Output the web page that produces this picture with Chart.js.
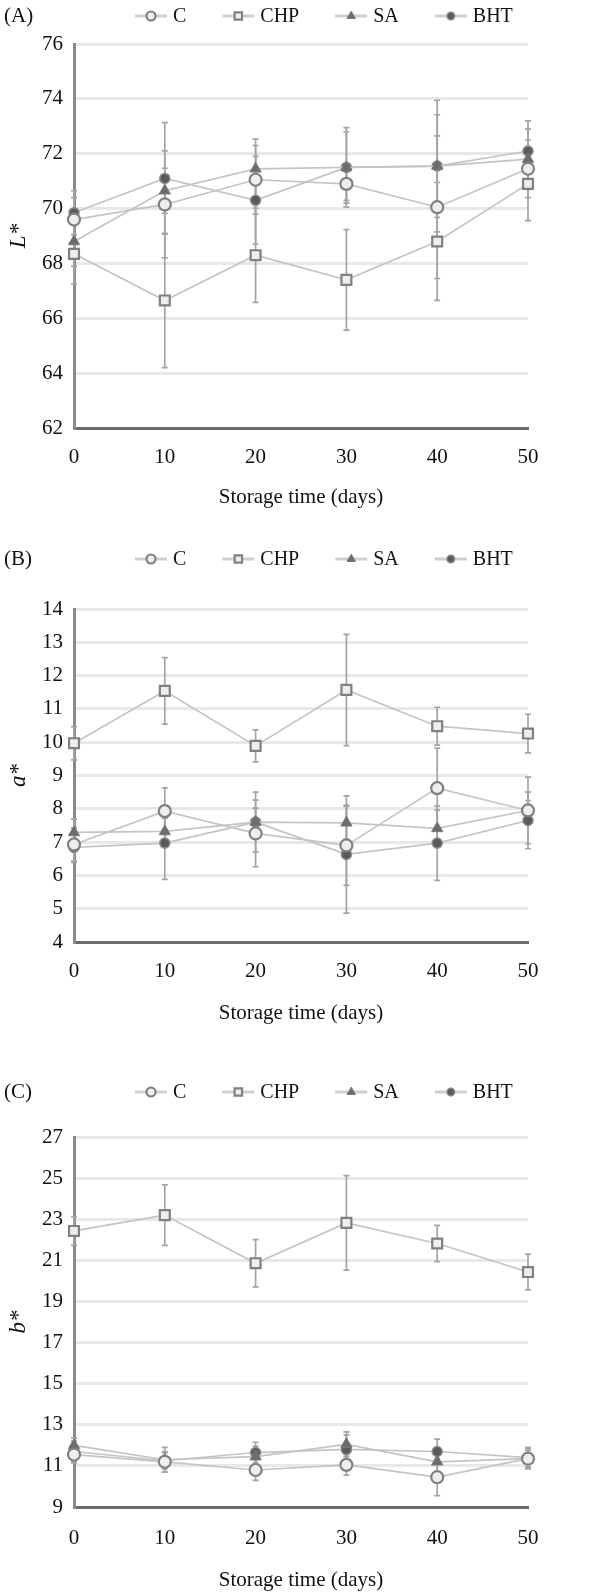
<!DOCTYPE html>
<html>
<head>
<meta charset="utf-8">
<script src="https://cdn.jsdelivr.net/npm/chart.js@4.4.0/dist/chart.umd.min.js"></script>
<style>
html,body{margin:0;padding:0;background:#fff;width:612px;height:1596px;overflow:hidden;}
canvas{position:absolute;left:0;display:block;}
</style>
</head>
<body>
<canvas id="cA" width="612" height="530" style="top:0px"></canvas>
<canvas id="cB" width="612" height="530" style="top:530px"></canvas>
<canvas id="cC" width="612" height="536" style="top:1060px"></canvas>
<script>
// ---------- data ----------
const days = [0, 10, 20, 30, 40, 50];
const dayLabels = ['0', '10', '20', '30', '40', '50'];
const seriesNames = ['C', 'CHP', 'SA', 'BHT'];
const xTitle = 'Storage time (days)';

// (A) L*
const lC   = [69.6, 70.15, 71.05, 70.9, 70.05, 71.45];
const lCHP = [68.35, 66.65, 68.3, 67.4, 68.8, 70.9];
const lSA  = [68.8, 70.65, 71.45, 71.5, 71.55, 71.8];
const lBHT = [69.85, 71.1, 70.3, 71.5, 71.55, 72.1];
const lCErr   = [0.8, 1.95, 1.25, 0.6, 2.6, 1.05];
const lCHPErr = [1.1, 2.45, 1.72, 1.83, 2.15, 1.34];
const lSAErr  = [0.9, 0.82, 1.08, 1.45, 2.4, 1.1];
const lBHTErr = [0.8, 2.03, 1.6, 1.3, 1.87, 1.1];
const lTicks = [62, 64, 66, 68, 70, 72, 74, 76];

// (B) a*
const aC   = [6.93, 7.93, 7.26, 6.9, 8.62, 7.95];
const aCHP = [9.97, 11.54, 9.89, 11.57, 10.48, 10.26];
const aSA  = [7.29, 7.32, 7.6, 7.58, 7.41, 7.95];
const aBHT = [6.84, 6.97, 7.6, 6.63, 6.97, 7.65];
const aCErr   = [0.5, 0.7, 1.0, 1.2, 1.2, 1.0];
const aCHPErr = [0.5, 1.0, 0.48, 1.67, 0.57, 0.58];
const aSAErr  = [0.4, 0.4, 0.9, 0.5, 0.55, 0.3];
const aBHTErr = [0.45, 1.09, 0.42, 1.76, 1.12, 0.85];
const aTicks = [4, 5, 6, 7, 8, 9, 10, 11, 12, 13, 14];

// (C) b*
const bC   = [11.55, 11.2, 10.8, 11.05, 10.45, 11.35];
const bCHP = [22.43, 23.2, 20.86, 22.82, 21.82, 20.43];
const bSA  = [12.0, 11.3, 11.45, 12.05, 11.2, 11.35];
const bBHT = [11.7, 11.25, 11.65, 11.8, 11.7, 11.4];
const bCErr   = [0.4, 0.5, 0.5, 0.5, 0.9, 0.5];
const bCHPErr = [0.7, 1.47, 1.15, 2.3, 0.88, 0.87];
const bSAErr  = [0.35, 0.6, 0.5, 0.6, 0.5, 0.4];
const bBHTErr = [0.5, 0.4, 0.5, 0.7, 0.6, 0.5];
const bTicks = [9, 11, 13, 15, 17, 19, 21, 23, 25, 27];

// ---------- styling ----------
const FONT = "'Liberation Serif', 'DejaVu Serif', serif";
const FS = 21;
const TFS = 21;
const LFS = 20;
const markerStyles = [
  {pointStyle: 'circle',   pointRadius: 6,   pointBackgroundColor: '#eeeeee', pointBorderColor: '#808080', pointBorderWidth: 2.2},
  {pointStyle: 'rect',     pointRadius: 7,   pointBackgroundColor: '#eeeeee', pointBorderColor: '#808080', pointBorderWidth: 2.2},
  {pointStyle: 'triangle', pointRadius: 6.5, pointBackgroundColor: '#6c6c6c', pointBorderColor: '#7a7a7a', pointBorderWidth: 1},
  {pointStyle: 'circle',   pointRadius: 5,   pointBackgroundColor: '#5a5a5a', pointBorderColor: '#8a8a8a', pointBorderWidth: 1.5}
];

const errorBars = {
  id: 'errorBars',
  beforeDatasetsDraw(chart) {
    const ctx = chart.ctx, ys = chart.scales.y;
    ctx.save();
    ctx.strokeStyle = '#a4a4a4';
    ctx.lineWidth = 1.7;
    chart.data.datasets.forEach((ds, i) => {
      const meta = chart.getDatasetMeta(i);
      meta.data.forEach((pt, j) => {
        const v = ds.data[j], e = ds.errors[j];
        const yt = ys.getPixelForValue(v + e), yb = ys.getPixelForValue(v - e);
        ctx.beginPath();
        ctx.moveTo(pt.x, yt); ctx.lineTo(pt.x, yb);
        ctx.moveTo(pt.x - 3, yt); ctx.lineTo(pt.x + 3, yt);
        ctx.moveTo(pt.x - 3, yb); ctx.lineTo(pt.x + 3, yb);
        ctx.stroke();
      });
    });
    ctx.restore();
  }
};

const panelLegend = {
  id: 'panelLegend',
  afterDraw(chart, args, opts) {
    const ctx = chart.ctx;
    ctx.save();
    ctx.fillStyle = '#111';
    ctx.textBaseline = 'middle';
    ctx.textAlign = 'left';
    const y = opts.y;
    ctx.font = FS + 'px ' + FONT;
    ctx.fillText(opts.tag, 4, y);
    ctx.font = LFS + 'px ' + FONT;
    let x = opts.startX;
    chart.data.datasets.forEach(ds => {
      ctx.strokeStyle = '#cfcfcf';
      ctx.lineWidth = 3;
      ctx.beginPath(); ctx.moveTo(x, y); ctx.lineTo(x + 32, y); ctx.stroke();
      ctx.fillStyle = ds.pointBackgroundColor;
      ctx.strokeStyle = ds.pointBorderColor;
      ctx.lineWidth = ds.pointBorderWidth;
      Chart.helpers.drawPoint(ctx, {pointStyle: ds.pointStyle, radius: ds.pointRadius * 0.75, borderWidth: ds.pointBorderWidth, rotation: 0}, x + 16, y);
      ctx.fillStyle = '#111';
      ctx.fillText(ds.label, x + 38, y + 1);
      x += 38 + ctx.measureText(ds.label).width + opts.gap;
    });
    ctx.restore();
  }
};

function makeChart(id, series, errs, ticks, yTitle, lay) {
  const datasets = series.map((vals, i) => Object.assign({
    label: seriesNames[i],
    data: vals,
    errors: errs[i],
    borderColor: '#c4c4c4',
    borderWidth: 1.7,
    tension: 0,
    fill: false
  }, markerStyles[i]));
  const lh = TFS * 1.2;
  const scaleBottom = lay.titleY + lh / 2;
  return new Chart(document.getElementById(id), {
    type: 'line',
    data: {labels: dayLabels, datasets: datasets},
    options: {
      responsive: false,
      animation: false,
      devicePixelRatio: 1,
      layout: {padding: {top: lay.areaTop, right: 84, bottom: lay.h - scaleBottom, left: 0}},
      plugins: {
        legend: {display: false},
        tooltip: {enabled: false},
        panelLegend: {tag: lay.tag, y: lay.legendY, startX: 135, gap: 36}
      },
      scales: {
        x: {
          grid: {display: false, drawTicks: false},
          border: {color: '#6c6c6c', width: 3},
          ticks: {font: {family: FONT, size: FS}, color: '#111', padding: lay.labelGap, maxRotation: 0},
          title: {display: true, text: xTitle, font: {family: FONT, size: TFS}, color: '#111', padding: 0},
          afterFit: s => { s.height = scaleBottom - lay.areaBottom; }
        },
        y: {
          min: ticks[0],
          max: ticks[ticks.length - 1],
          ticks: {stepSize: ticks[1] - ticks[0], font: {family: FONT, size: FS}, color: '#111', padding: 11},
          grid: {color: '#e8e8e8', lineWidth: 3, drawTicks: false},
          border: {color: '#8a8a8a', width: 3},
          title: {display: true, text: yTitle, font: {family: FONT, size: 23, style: 'italic'}, color: '#111', padding: {top: 5, bottom: 0}},
          afterFit: s => { s.width = 74; }
        }
      }
    },
    plugins: [errorBars, panelLegend]
  });
}

makeChart('cA', [lC, lCHP, lSA, lBHT], [lCErr, lCHPErr, lSAErr, lBHTErr], lTicks, 'L*',
  {tag: '(A)', h: 530, legendY: 16, areaTop: 44, areaBottom: 428, labelGap: 17, titleY: 497});
makeChart('cB', [aC, aCHP, aSA, aBHT], [aCErr, aCHPErr, aSAErr, aBHTErr], aTicks, 'a*',
  {tag: '(B)', h: 530, legendY: 29, areaTop: 79, areaBottom: 412, labelGap: 17, titleY: 483});
makeChart('cC', [bC, bCHP, bSA, bBHT], [bCErr, bCHPErr, bSAErr, bBHTErr], bTicks, 'b*',
  {tag: '(C)', h: 536, legendY: 32, areaTop: 77, areaBottom: 447, labelGap: 19, titleY: 520});
</script>
</body>
</html>
